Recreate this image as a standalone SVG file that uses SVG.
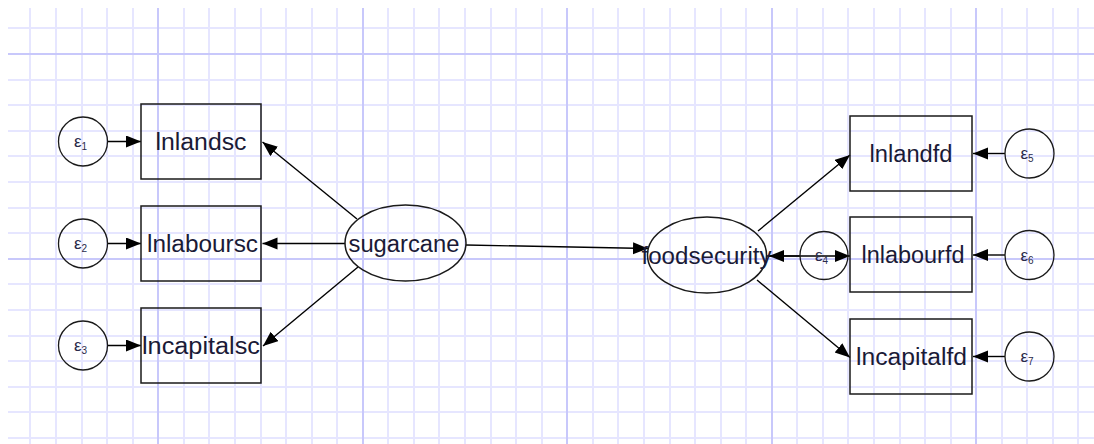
<svg xmlns="http://www.w3.org/2000/svg" width="1094" height="444" viewBox="0 0 1094 444">
<style>
.minor{stroke:#e6e6ff;stroke-width:2;fill:none}
.major{stroke:#c8c8fb;stroke-width:2;fill:none}
.box{fill:none;stroke:#1a1a1a;stroke-width:1.5}
.lat{fill:none;stroke:#1a1a1a;stroke-width:1.5}
.err{fill:none;stroke:#1a1a1a;stroke-width:1.3}
.conn{stroke:#000;stroke-width:1.4;fill:none;marker-end:url(#ah)}
.lbl{font-family:"Liberation Sans",Arial,sans-serif;font-size:23px;fill:#1a1a36;text-anchor:middle}
.eps{font-family:"Liberation Sans",Arial,sans-serif;font-size:17px;fill:#2a2a4a}
.sub{font-size:10px}
</style>
<defs>
<marker id="ah" markerUnits="userSpaceOnUse" markerWidth="16" markerHeight="13" refX="15" refY="6" orient="auto">
<path d="M0,0 L15,6 L0,12 z" fill="#000"/>
</marker>
</defs>
<rect x="0" y="0" width="1094" height="444" fill="#fff"/>
<g id="grid">
<path class="minor" d="M30,8V444M56,8V444M82,8V444M107,8V444M133,8V444M184,8V444M209,8V444M235,8V444M261,8V444M286,8V444M312,8V444M337,8V444M388,8V444M414,8V444M439,8V444M465,8V444M491,8V444M516,8V444M542,8V444M593,8V444M618,8V444M644,8V444M670,8V444M695,8V444M721,8V444M746,8V444M797,8V444M823,8V444M848,8V444M874,8V444M900,8V444M925,8V444M951,8V444M1002,8V444M1027,8V444M1053,8V444M1078,8V444"/>
<path class="minor" d="M8,28H1094M8,80H1094M8,105H1094M8,131H1094M8,156H1094M8,182H1094M8,208H1094M8,233H1094M8,284H1094M8,310H1094M8,336H1094M8,361H1094M8,387H1094M8,412H1094M8,438H1094"/>
<path class="major" d="M158,8V444M363,8V444M567,8V444M772,8V444M976,8V444M8,54H1094M8,259H1094"/>
</g>
<g id="connectors">
<line class="conn" x1="107.5" y1="141.5" x2="141" y2="141.5"/>
<line class="conn" x1="107.5" y1="243.5" x2="141" y2="243.5"/>
<line class="conn" x1="107.5" y1="345.5" x2="141" y2="345.5"/>
<line class="conn" x1="357" y1="219" x2="262.5" y2="142"/>
<line class="conn" x1="345" y1="243.5" x2="262.5" y2="243.5"/>
<line class="conn" x1="358" y1="267" x2="263" y2="346"/>
<line class="conn" x1="466" y1="245" x2="648" y2="248.5"/>
<line class="conn" x1="758" y1="231" x2="850" y2="155"/>
<line class="conn" x1="766.5" y1="256" x2="850" y2="256"/>
<line class="conn" x1="800" y1="256" x2="769" y2="256"/>
<line class="conn" x1="757" y1="280" x2="850" y2="357.5"/>
<line class="conn" x1="1005" y1="153.5" x2="973" y2="153.5"/>
<line class="conn" x1="1005" y1="255" x2="973" y2="255"/>
<line class="conn" x1="1005" y1="356.5" x2="973" y2="356.5"/>
</g>
<g id="e1"><circle class="err" cx="83" cy="141.5" r="24.5"/><text class="eps" x="74" y="147">ε<tspan class="sub" dy="3">1</tspan></text></g>
<g id="e2"><circle class="err" cx="83" cy="243.5" r="24.5"/><text class="eps" x="74" y="249">ε<tspan class="sub" dy="3">2</tspan></text></g>
<g id="e3"><circle class="err" cx="83" cy="345.5" r="24.5"/><text class="eps" x="74" y="351">ε<tspan class="sub" dy="3">3</tspan></text></g>
<g id="lnlandsc"><rect class="box" x="141" y="104" width="120" height="75"/><text class="lbl" x="201" y="150" textLength="91" lengthAdjust="spacingAndGlyphs">lnlandsc</text></g>
<g id="lnlaboursc"><rect class="box" x="141" y="206" width="120" height="75"/><text class="lbl" x="202.5" y="252" textLength="111" lengthAdjust="spacingAndGlyphs">lnlaboursc</text></g>
<g id="lncapitalsc"><rect class="box" x="141" y="308" width="120" height="75"/><text class="lbl" x="201" y="354" textLength="118" lengthAdjust="spacingAndGlyphs">lncapitalsc</text></g>
<g id="sugarcane"><ellipse class="lat" cx="405.5" cy="243" rx="60.5" ry="38"/><text class="lbl" x="404" y="251.5" textLength="111" lengthAdjust="spacingAndGlyphs">sugarcane</text></g>
<g id="foodsecurity"><ellipse class="lat" cx="707" cy="255" rx="59.5" ry="38"/><text class="lbl" x="706.5" y="263.5" textLength="130" lengthAdjust="spacingAndGlyphs">foodsecurity</text></g>
<g id="e4"><circle class="err" cx="824" cy="255.5" r="24"/><text class="eps" x="815" y="261">ε<tspan class="sub" dy="3">4</tspan></text></g>
<g id="lnlandfd"><rect class="box" x="850" y="116" width="122" height="75"/><text class="lbl" x="911" y="162" textLength="83" lengthAdjust="spacingAndGlyphs">lnlandfd</text></g>
<g id="lnlabourfd"><rect class="box" x="850" y="217" width="122" height="75"/><text class="lbl" x="913" y="263" textLength="103" lengthAdjust="spacingAndGlyphs">lnlabourfd</text></g>
<g id="lncapitalfd"><rect class="box" x="850" y="319" width="122" height="75"/><text class="lbl" x="911.5" y="365" textLength="111" lengthAdjust="spacingAndGlyphs">lncapitalfd</text></g>
<g id="e5"><circle class="err" cx="1029.5" cy="153.5" r="24.5"/><text class="eps" x="1020.5" y="159">ε<tspan class="sub" dy="3">5</tspan></text></g>
<g id="e6"><circle class="err" cx="1029.5" cy="255" r="24.5"/><text class="eps" x="1020.5" y="260.5">ε<tspan class="sub" dy="3">6</tspan></text></g>
<g id="e7"><circle class="err" cx="1029.5" cy="356.5" r="24.5"/><text class="eps" x="1020.5" y="362">ε<tspan class="sub" dy="3">7</tspan></text></g>
</svg>
